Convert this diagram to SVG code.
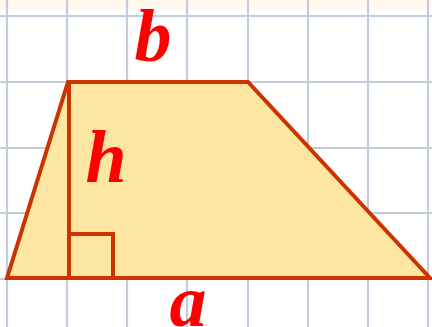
<svg xmlns="http://www.w3.org/2000/svg" width="432" height="327" viewBox="0 0 432 327">
  <style>
    .grid line { stroke: #C2CCDD; stroke-width: 2.2; }
    .shape { fill: #FDE5A2; stroke: #CC3300; stroke-width: 4; stroke-linejoin: miter; }
    .edge { fill: none; stroke: #CC3300; stroke-width: 4; }
    .lbl { font-family: "Liberation Serif", "Times New Roman", serif; font-weight: bold; font-style: italic; font-size: 74px; fill: #FF0000; text-anchor: middle; }
  </style>
  <rect x="0" y="0" width="432" height="327" fill="#FFFFFF"/>
  <rect x="0" y="0" width="432" height="9" fill="#FFF9F0"/>
  <g id="grid" class="grid">
    <line x1="7" y1="0" x2="7" y2="327"/>
    <line x1="67" y1="0" x2="67" y2="327"/>
    <line x1="127" y1="0" x2="127" y2="327"/>
    <line x1="187" y1="0" x2="187" y2="327"/>
    <line x1="248" y1="0" x2="248" y2="327"/>
    <line x1="308" y1="0" x2="308" y2="327"/>
    <line x1="368" y1="0" x2="368" y2="327"/>
    <line x1="428" y1="0" x2="428" y2="327"/>
    <line x1="0" y1="16" x2="432" y2="16"/>
    <line x1="0" y1="82" x2="432" y2="82"/>
    <line x1="0" y1="148" x2="432" y2="148"/>
    <line x1="0" y1="213" x2="432" y2="213"/>
    <line x1="0" y1="279" x2="432" y2="279"/>
  </g>
  <g id="trapezoid">
    <polygon class="shape" points="68,82 248,82 430,278 7,278"/>
  </g>
  <g id="connectors">
    <line class="edge" x1="69" y1="82" x2="69" y2="278"/>
    <polyline class="edge" points="69,234 113,234 113,278"/>
  </g>
  <g id="label-b"><text class="lbl" x="153" y="61">b</text></g>
  <g id="label-h"><text class="lbl" x="106" y="182">h</text></g>
  <g id="label-a"><text class="lbl" x="188" y="326">a</text></g>
</svg>
